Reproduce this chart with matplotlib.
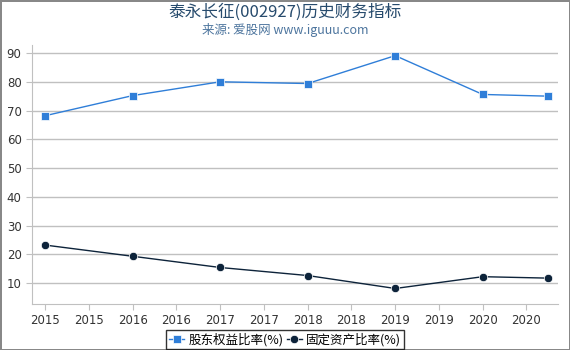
import matplotlib
matplotlib.use("Agg")
import matplotlib.pyplot as plt

plt.rcParams['font.family'] = ['Noto Sans CJK SC', 'DejaVu Sans']

# data
years = [2015.0, 2016.0, 2017.0, 2018.0, 2019.0, 2020.0, 2020.75]
equity_ratio = [68.2, 75.2, 80.0, 79.4, 89.1, 75.6, 75.0]
fixed_asset_ratio = [23.2, 19.3, 15.4, 12.6, 8.1, 12.2, 11.7]
tick_pos = [2015, 2015.5, 2016, 2016.5, 2017, 2017.5, 2018, 2018.5, 2019, 2019.5, 2020, 2020.5]
tick_labels = [str(int(t)) for t in tick_pos]

fig = plt.figure(figsize=(5.7, 3.5), dpi=100)
fig.patch.set_edgecolor('#888888')
fig.patch.set_linewidth(2)
ax = fig.add_axes([32 / 570, 1 - 304 / 350, 526 / 570, 259 / 350])

ax.plot(years, equity_ratio, color='#2f7ed8', lw=1, marker='s', ms=6,
        mec='white', mew=0.5, label='股东权益比率(%)')
ax.plot(years, fixed_asset_ratio, color='#0d233a', lw=1, marker='o', ms=6,
        mec='white', mew=0.5, label='固定资产比率(%)')

ax.set_xlim(2014.85, 2020.86)
ax.set_ylim(2.7, 92.8)
ax.set_yticks(range(10, 100, 10))
ax.set_xticks(tick_pos)
ax.set_xticklabels(tick_labels)
ax.grid(axis='y', color='#c0c0c0', lw=1)
ax.set_axisbelow(True)
for s in ['top', 'right']:
    ax.spines[s].set_visible(False)
ax.spines['left'].set_color('#c0c0c0')
ax.spines['bottom'].set_color('#c0c0c0')
ax.tick_params(axis='both', colors='#c0c0c0', labelcolor='#333333', labelsize=8.5,
               length=4, labelfontfamily='DejaVu Sans')

fig.text(0.5, 0.965, '泰永长征(002927)历史财务指标', ha='center', va='center',
         fontsize=12, color='#274b6d')
fig.text(0.5, 0.915, '来源: 爱股网 www.iguuu.com', ha='center', va='center',
         fontsize=9, color='#4d759e')

leg = fig.legend(loc='center', bbox_to_anchor=(0.5, 0.03), ncol=2, fontsize=9,
                 frameon=True, fancybox=False, edgecolor='black',
                 handlelength=1.2, handletextpad=0.3, columnspacing=0.3,
                 borderpad=0.25)
leg.get_frame().set_linewidth(1)

fig.savefig('out.png', dpi=100)
